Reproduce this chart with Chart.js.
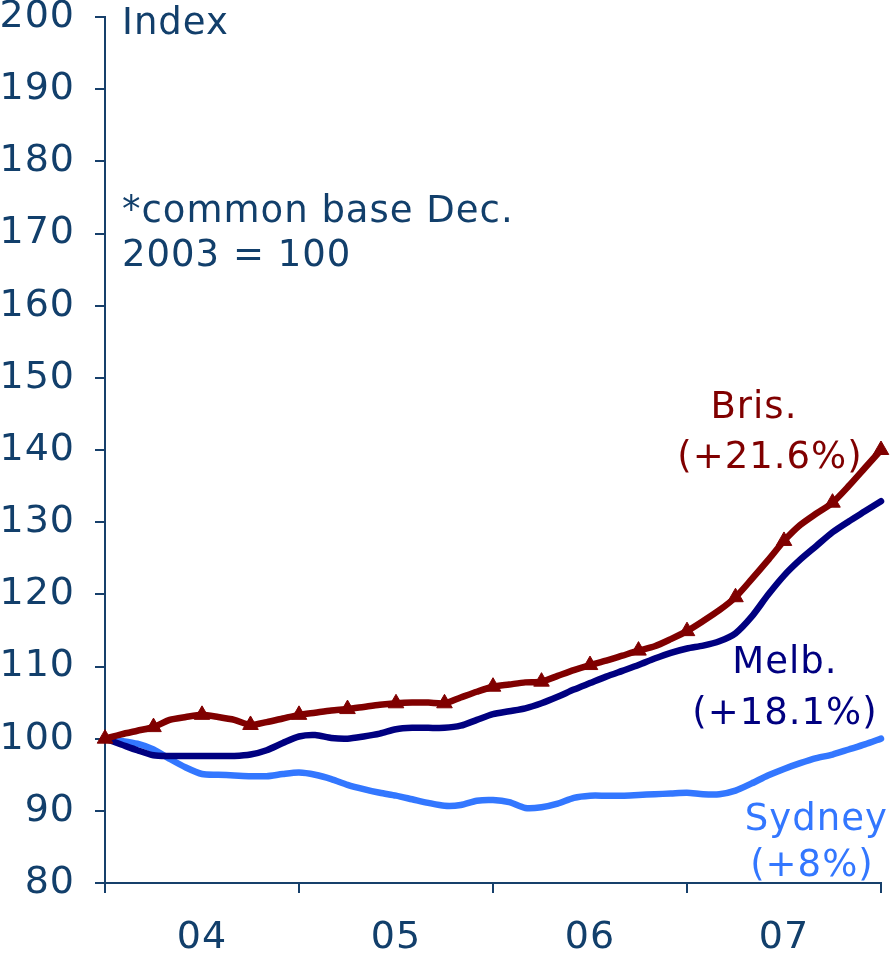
<!DOCTYPE html>
<html lang="en">
<head>
  <meta charset="UTF-8" />
  <title>House price index: Bris, Melb, Sydney</title>
  <script src="https://cdn.jsdelivr.net/npm/chart.js"></script>
  <style>
    body { margin: 0; background: #fff; }
    #wrap { width: 892px; height: 965px; }
  </style>
</head>
<body>
  <div id="wrap"><canvas id="chart" width="892" height="965"></canvas></div>

  <script>
    // monthly, Dec 2003 .. Dec 2007 (common base Dec. 2003 = 100)
    const months = [];
    for (let y = 2003; y <= 2007; y++) {
      for (let m = 1; m <= 12; m++) {
        if (y === 2003 && m < 12) continue;
        months.push(y + '-' + String(m).padStart(2, '0'));
      }
    }
    const yearLabels = { 6: '04', 18: '05', 30: '06', 42: '07' };

    const bris = [100, 100.6, 101.1, 101.6, 102.6, 103.0, 103.3, 103.0, 102.6, 101.9, 102.3, 102.8,
      103.3, 103.6, 103.9, 104.1, 104.4, 104.7, 104.9, 105.0, 105.0, 104.9, 105.7, 106.5,
      107.2, 107.5, 107.8, 107.9, 108.7, 109.5, 110.2, 110.8, 111.5, 112.2, 112.8, 113.8,
      114.9, 116.3, 117.8, 119.6, 122.1, 124.7, 127.4, 129.6, 131.2, 132.7, 135.0, 137.5, 140.0];
    const melb = [100, 99.2, 98.4, 97.7, 97.6, 97.6, 97.6, 97.6, 97.6, 97.8, 98.4, 99.4,
      100.3, 100.5, 100.1, 100.0, 100.3, 100.7, 101.3, 101.5, 101.5, 101.5, 101.8, 102.6,
      103.4, 103.8, 104.2, 104.9, 105.8, 106.8, 107.7, 108.6, 109.4, 110.2, 111.1, 111.9,
      112.5, 112.9, 113.5, 114.6, 116.9, 119.9, 122.6, 124.8, 126.7, 128.6, 130.1, 131.5, 132.9];
    const sydney = [100, 99.7, 99.3, 98.5, 97.2, 96.0, 95.1, 95.0, 94.9, 94.8, 94.8, 95.1,
      95.3, 95.0, 94.4, 93.6, 93.0, 92.5, 92.1, 91.6, 91.1, 90.7, 90.8, 91.4,
      91.5, 91.2, 90.4, 90.5, 91.0, 91.8, 92.1, 92.1, 92.1, 92.2, 92.3, 92.4,
      92.5, 92.3, 92.3, 92.8, 93.8, 94.9, 95.8, 96.6, 97.3, 97.8, 98.5, 99.2, 100.0];

    const axisColor = '#17406b';
    const textColor = '#123f6b';
    const FONT = "'DejaVu Sans', Verdana, sans-serif";
    const SPACING = '1px';

    // text notes: [text, month index, index value (baseline), colour, align]
    const notes = [
      ['Index', 1.05, 197.6, textColor, 'left'],
      ['*common base Dec.', 1.05, 171.6, textColor, 'left'],
      ['2003 = 100', 1.05, 165.5, textColor, 'left'],
      ['Bris.', 40.14, 144.4, '#800000', 'center'],
      ['(+21.6%)', 41.13, 137.5, '#800000', 'center'],
      ['Melb.', 42.06, 109.1, '#000080', 'center'],
      ['(+18.1%)', 42.06, 102.0, '#000080', 'center'],
      ['Sydney', 44.0, 87.3, '#3377ff', 'center'],
      ['(+8%)', 43.73, 81.0, '#3377ff', 'center']
    ];

    const spacing = {
      id: 'spacing',
      beforeUpdate(chart) { chart.ctx.letterSpacing = SPACING; },
      beforeDraw(chart) { chart.ctx.letterSpacing = SPACING; }
    };

    const notesPlugin = {
      id: 'notes',
      afterDatasetsDraw(chart) {
        const { ctx, scales } = chart;
        ctx.save();
        ctx.letterSpacing = SPACING;
        ctx.font = '37px ' + FONT;
        ctx.textBaseline = 'alphabetic';
        notes.forEach(([text, m, v, color, align]) => {
          ctx.fillStyle = color;
          ctx.textAlign = align;
          ctx.fillText(text, scales.x.getPixelForValue(m), scales.y.getPixelForValue(v));
        });
        ctx.restore();
      }
    };

    const lineStyle = {
      borderWidth: 6.5,
      tension: 0.25,
      borderCapStyle: 'round',
      borderJoinStyle: 'round',
      fill: false,
      clip: false
    };

    new Chart(document.getElementById('chart'), {
      type: 'line',
      data: {
        labels: months,
        datasets: [
          {
            label: 'Bris.',
            data: bris,
            borderColor: '#800000',
            backgroundColor: '#800000',
            pointStyle: 'triangle',
            pointRadius: bris.map((_, i) => (i % 3 === 0 ? 9 : 0)),
            pointBorderWidth: 1,
            ...lineStyle
          },
          {
            label: 'Melb.',
            data: melb,
            borderColor: '#000080',
            pointRadius: 0,
            ...lineStyle
          },
          {
            label: 'Sydney',
            data: sydney,
            borderColor: '#3377ff',
            pointRadius: 0,
            ...lineStyle
          }
        ]
      },
      options: {
        responsive: false,
        animation: false,
        layout: { autoPadding: false, padding: { top: 0, right: 11, left: 0, bottom: 0 } },
        plugins: {
          legend: { display: false },
          tooltip: { enabled: false }
        },
        scales: {
          x: {
            type: 'category',
            offset: false,
            border: { color: axisColor, width: 2 },
            grid: {
              drawOnChartArea: false,
              tickLength: 10,
              lineWidth: 2,
              tickColor: (c) => (c.index % 12 === 0 ? axisColor : 'transparent')
            },
            ticks: {
              autoSkip: false,
              maxRotation: 0,
              minRotation: 0,
              padding: 22,
              color: textColor,
              font: { family: FONT, size: 38 },
              callback: (v, i) => yearLabels[i] || ''
            },
            afterFit: (s) => {
              s.height = 82;
              s.paddingLeft = 0;
              s.paddingRight = 0;
            }
          },
          y: {
            min: 80,
            max: 200,
            border: { color: axisColor, width: 2 },
            grid: {
              drawOnChartArea: false,
              tickLength: 10,
              lineWidth: 2,
              tickColor: axisColor
            },
            ticks: {
              stepSize: 10,
              padding: 20,
              color: textColor,
              font: { family: FONT, size: 38, lineHeight: 0.8 }
            },
            afterFit: (s) => {
              s.width = 105;
              s.paddingTop = 17;
              s.paddingBottom = 0;
            }
          }
        }
      },
      plugins: [spacing, notesPlugin]
    });
  </script>
</body>
</html>
